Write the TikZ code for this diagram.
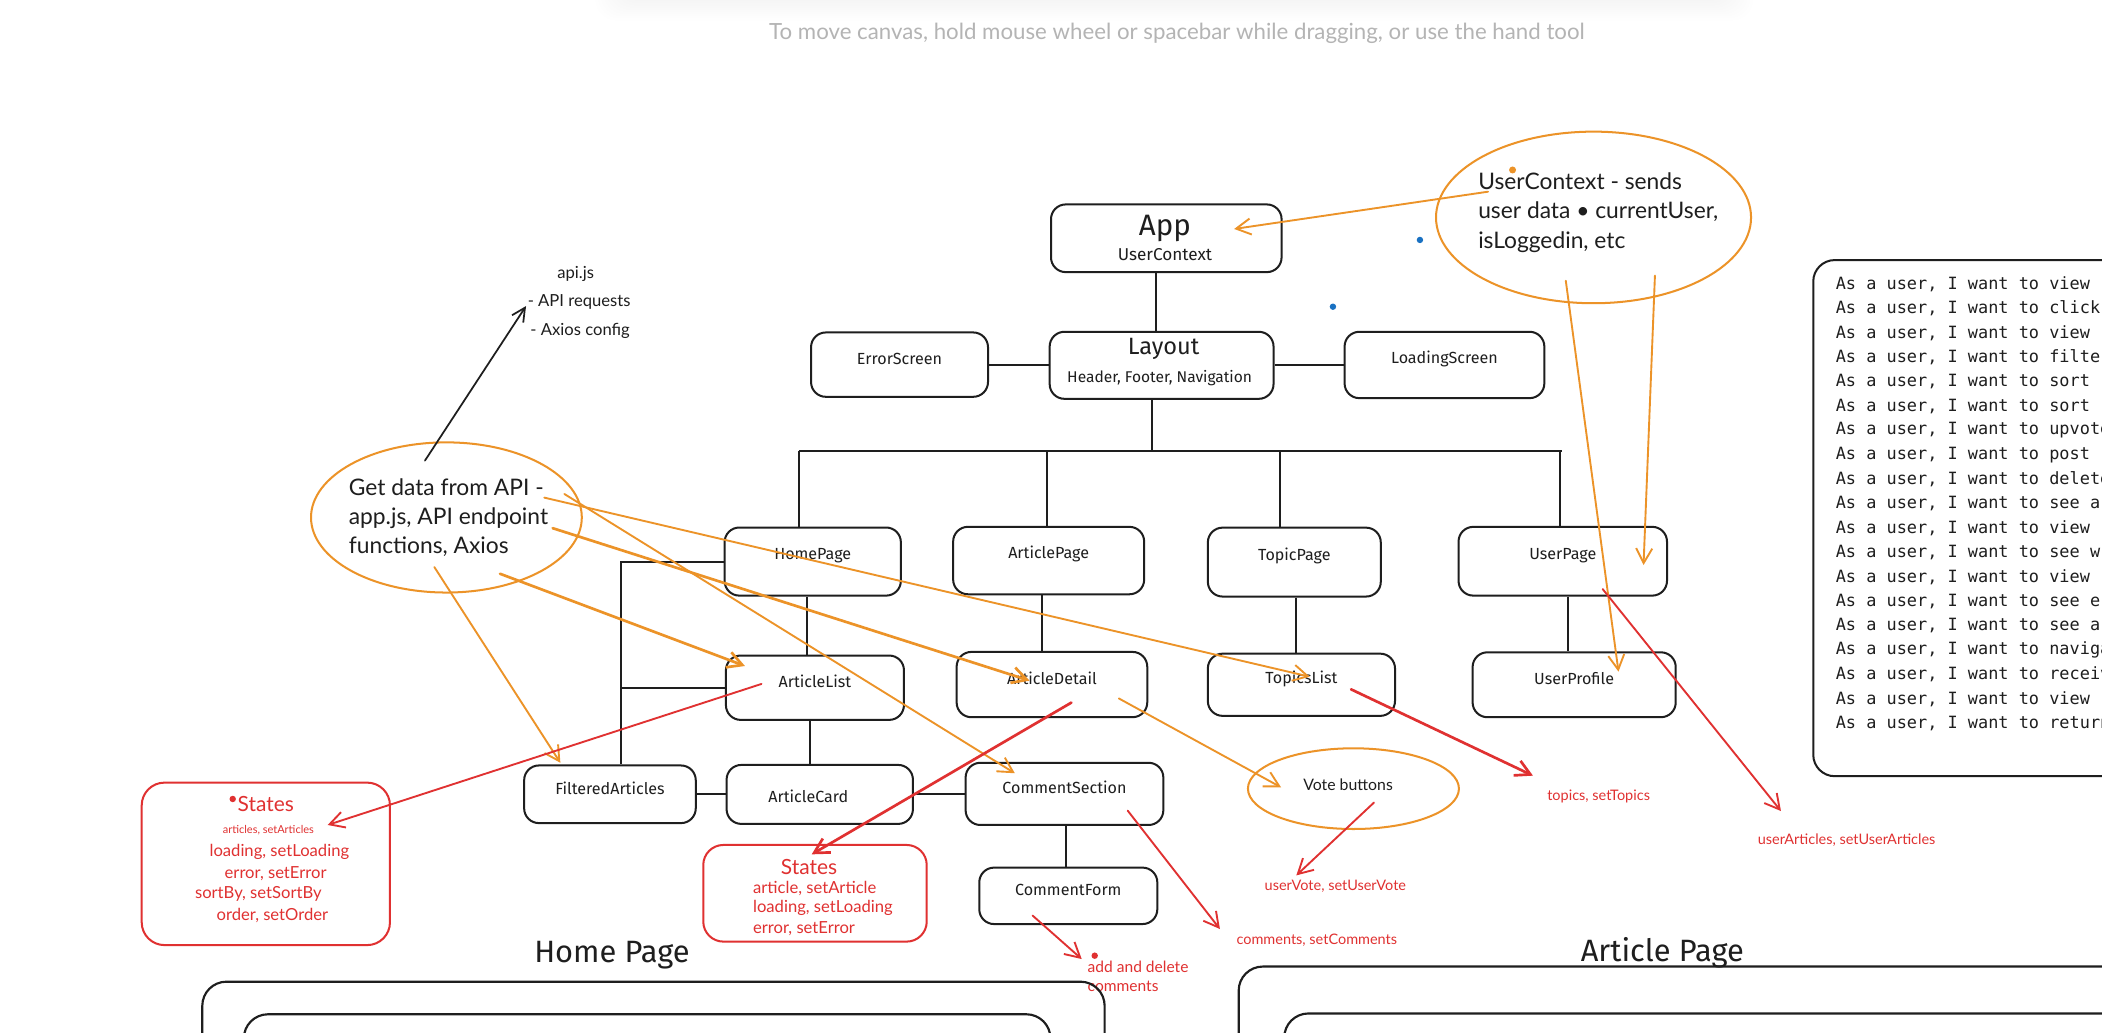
\documentclass[tikz,border=0pt]{standalone}
\usepackage{fontspec}
\setmainfont{Lato}
\newfontfamily\handf{Fira Sans}
\newfontfamily\monof{DejaVu Sans Mono}
\usetikzlibrary{shapes.geometric,arrows.meta,fit,calc}
\definecolor{ink}{HTML}{1E1E1E}
\definecolor{orng}{HTML}{EC9328}
\definecolor{redc}{HTML}{E03131}
\definecolor{bluc}{HTML}{1971C2}
\definecolor{hint}{HTML}{B4B4B4}
\begin{document}
\begin{tikzpicture}[x=0.5pt,y=-0.5pt,
  box/.style={draw=ink,line width=0.75pt,rounded corners=5.5pt,inner sep=0pt,
    font=\handf\fontsize{6}{7}\selectfont,text=ink},
  rbox/.style={draw=redc,line width=0.75pt,rounded corners=7.5pt,inner sep=0pt},
  frame/.style={draw=ink,line width=0.8pt,rounded corners=9pt,inner sep=0pt},
  lbl/.style={inner sep=0pt,text=ink,font=\handf\fontsize{6}{7}\selectfont},
  conn/.style={draw=ink,line width=0.75pt},
  oarr/.style={draw=orng,line width=0.7pt,line cap=round,-{Straight Barb[length=5.5pt,width=6pt]}},
  odbl/.style={oarr,line width=1pt},
  rarr/.style={draw=redc,line width=0.7pt,line cap=round,-{Straight Barb[length=5.5pt,width=6pt]}},
  rdbl/.style={rarr,line width=1pt},
  karr/.style={draw=ink,line width=0.65pt,line cap=round,-{Straight Barb[length=5pt,width=5pt]}},
  oell/.style={ellipse,draw=orng,line width=0.75pt,inner sep=0pt},
  note/.style={inner sep=0pt,text=ink,align=left,font=\fontsize{8.5}{10.85}\selectfont},
  small/.style={inner sep=0pt,text=ink,font=\fontsize{6.2}{7.5}\selectfont},
  rtxt/.style={inner sep=0pt,text=redc,font=\fontsize{5.4}{6.5}\selectfont},
  stxt/.style={inner sep=0pt,text=redc,font=\fontsize{6.2}{7.5}\selectfont},
  sttl/.style={inner sep=0pt,text=redc,font=\fontsize{7.8}{9}\selectfont},
  story/.style={inner sep=0pt,anchor=west,text=ink,font=\monof\fontsize{6.3}{7.5}\selectfont},
  dot/.style={circle,inner sep=0pt,minimum size=2.4pt}]
\useasboundingbox (0,0) rectangle (1568,770);
\clip (0,0) rectangle (1568,770);
\fill[white] (0,0) rectangle (1568,770);

% faint toolbar shadow at top
\foreach \k in {0,...,9}{
  \fill[black,opacity=0.004,rounded corners=8pt] ({462-2*\k},-40) rectangle ({1290+2*\k},{1+1.6*\k});
}
\node[inner sep=0pt,text=hint,font=\fontsize{8.3}{10}\selectfont] (hintT) at (878,25)
  {To move canvas, hold mouse wheel or spacebar while dragging, or use the hand tool};

% ---------- component boxes ----------
\node[box,fit={(784,152.5) (956,203)}] (app) {};
\node[lbl,font=\handf\fontsize{11}{12}\selectfont] (appT) at (869,170.3) {App};
\node[lbl,font=\handf\fontsize{6.4}{7}\selectfont] (appS) at (869,190.2) {UserContext};

\node[box,fit={(783,247.5) (950,297.5)}] (layout) {};
\node[lbl,font=\handf\fontsize{8.8}{10}\selectfont] (layT) at (868,260.3) {Layout};
\node[lbl,font=\handf\fontsize{5.8}{7}\selectfont] (layS) at (865,281.7) {Header, Footer, Navigation};

\node[box,fit={(605,248) (737,296)}] (errorscreen) {ErrorScreen};
\node[box,fit={(1003,247.5) (1152,297)}] (loading) {LoadingScreen};

\node[box,fit={(540.5,393.5) (672,444.3)}] (homepage) {HomePage};
\node[box,fit={(711,393) (853.5,443.3)}] (articlepage) {ArticlePage};
\node[box,fit={(901,393.6) (1030,445)}] (topicpage) {TopicPage};
\node[box,fit={(1088,393) (1243.5,444.3)}] (userpage) {UserPage};

\node[box,fit={(541.5,489) (674.3,537)}] (articlelist) {ArticleList};
\node[box,fit={(713.6,486.3) (855.8,535)}] (articledetail) {ArticleDetail};
\node[box,fit={(901,487.6) (1040.6,534)}] (topicslist) {TopicsList};
\node[box,fit={(1098.5,486.6) (1250,535)}] (userprofile) {UserProfile};

\node[box,fit={(391,571) (519,614)}] (filtered) {FilteredArticles};
\node[box,fit={(542,570.6) (681,614.6)}] (articlecard) {};
\node[lbl] (cardT) at (603,594) {ArticleCard};
\node[box,fit={(720.3,569) (867.8,615.4)}] (commentsection) {CommentSection};
\node[box,fit={(730.5,647.2) (863.3,689.3)}] (commentform) {CommentForm};

% ---------- tree connectors ----------
\coordinate (busL) at (596,336.5);
\coordinate (busR) at (1165.5,336.5);
\coordinate (xApp) at (862,0);
\coordinate (xLay) at (859.5,0);
\coordinate (xAP) at (781,0);
\coordinate (xTP) at (954.5,0);
\coordinate (xUP) at (1163.7,0);
\coordinate (xHL) at (602,0);
\coordinate (xAD) at (777,0);
\coordinate (xTL) at (966.7,0);
\coordinate (xUF) at (1169.6,0);
\coordinate (xAC) at (604,0);
\coordinate (xCF) at (795.2,0);
\coordinate (xFr) at (463,0);

\draw[conn] (app.south -| xApp) -- (layout.north -| xApp);
\draw[conn] (layout.south -| xLay) -- (busL -| xLay);
\draw[conn] (busL) -- (busR);
\draw[conn] (busL) -- (busL |- homepage.north);
\draw[conn] (busL -| xAP) -- (articlepage.north -| xAP);
\draw[conn] (busL -| xTP) -- (topicpage.north -| xTP);
\draw[conn] (busL -| xUP) -- (userpage.north -| xUP);
\draw[conn] (homepage.south -| xHL) -- (articlelist.north -| xHL);
\draw[conn] (articlepage.south -| xAD) -- (articledetail.north -| xAD);
\draw[conn] (topicpage.south -| xTL) -- (topicslist.north -| xTL);
\draw[conn] (userpage.south -| xUF) -- (userprofile.north -| xUF);
\draw[conn] (articlelist.south -| xAC) -- (articlecard.north -| xAC);
\draw[conn] (commentsection.south -| xCF) -- (commentform.north -| xCF);
\draw[conn] (errorscreen.east) -- (errorscreen.east -| layout.west);
\draw[conn] (layout.east) -- (layout.east -| loading.west);
\draw[conn] (filtered.east) -- (filtered.east -| articlecard.west);
\draw[conn] (articlecard.east) -- (articlecard.east -| commentsection.west);
\draw[conn] (homepage.west) -- (homepage.west -| xFr) -- (filtered.north -| xFr);
\draw[conn] (articlelist.west) -- (articlelist.west -| xFr);

% ---------- orange notes ----------
\node[oell,minimum width=117.5pt,minimum height=64pt] (uc) at (1188.7,162.2) {};
\node[note,anchor=west] (ucT) at (1102.3,158.6) {UserContext - sends\\user data \textbullet{} currentUser,\\isLoggedin, etc};
\node[oell,minimum width=101pt,minimum height=56pt] (gd) at (333,386) {};
\node[note,anchor=west] (gdT) at (259.8,385.9) {Get data from API -\\app.js, API endpoint\\functions, Axios};
\node[oell,minimum width=78.7pt,minimum height=30.1pt] (vote) at (1009.6,588.3) {};
\node[inner sep=0pt,text=ink,font=\fontsize{5.9}{7}\selectfont] (voteT) at (1005.6,585.6) {Vote buttons};

\node[small] (apiT) at (429.4,204.6) {api.js};
\node[small,anchor=west] (apiA) at (393.3,225.5) {- API requests};
\node[small,anchor=west] (apiB) at (395.3,246.9) {- Axios config};

\node[dot,fill=bluc] (blue1) at (1059.2,179) {};
\node[dot,fill=bluc] (blue2) at (994.3,228.8) {};
\node[dot,fill=orng,minimum size=2.6pt] (odot) at (1128.3,126.8) {};

% ---------- orange arrows ----------
\coordinate (o1s) at (1110,143);     \coordinate (o1e) at (920.6,170.8);
\coordinate (o2s) at (1168,209.4);   \coordinate (o2e) at (1207.3,501);
\coordinate (o3s) at (1234.5,205.6); \coordinate (o3e) at (1226,421.5);
\coordinate (o4s) at (406,371.2);    \coordinate (o4e) at (977,504.8);
\coordinate (o5s) at (421,368.5);    \coordinate (o5e) at (757,576.8);
\coordinate (o6s) at (412.3,394);    \coordinate (o6e) at (768,507.7);
\coordinate (o7s) at (373,428);      \coordinate (o7e) at (555.7,496.8);
\coordinate (o8s) at (324,423);      \coordinate (o8e) at (418,569);
\coordinate (o9s) at (834.6,521);    \coordinate (o9e) at (955.6,587.3);
\draw[oarr] (o1s) -- (o1e);
\draw[oarr] (o2s) -- (o2e);
\draw[oarr] (o3s) -- (o3e);
\draw[oarr] (o4s) -- (o4e);
\draw[oarr] (o5s) -- (o5e);
\draw[odbl] (o6s) -- (o6e);
\draw[odbl] (o7s) -- (o7e);
\draw[oarr] (o8s) -- (o8e);
\draw[oarr] (o9s) -- (o9e);

\coordinate (k1s) at (317,343.6);   \coordinate (k1e) at (392.4,228.3);
\draw[karr] (k1s) -- (k1e);

% ---------- states boxes ----------
\node[rbox,rounded corners=8.5pt,fit={(105.7,583.8) (290.9,705)}] (st1) {};
\node[dot,fill=redc] (st1dot) at (173.6,596) {};
\node[sttl] (st1T) at (198.3,599.7) {States};
\node[inner sep=0pt,text=redc,font=\fontsize{4.1}{5}\selectfont] (st1a) at (200.2,619.4) {articles, setArticles};
\node[stxt] (st1b) at (208.4,635.3) {loading, setLoading};
\node[stxt] (st1c) at (205.6,651.5) {error, setError};
\node[stxt] (st1d) at (192.7,666.9) {sortBy, setSortBy};
\node[stxt] (st1e) at (203.2,683) {order, setOrder};

\node[rbox,fit={(524.6,630.3) (691.3,702.4)}] (st2) {};
\node[sttl] (st2T) at (603.5,646.5) {States};
\node[stxt,anchor=west] (st2a) at (561.4,662.6) {article, setArticle};
\node[stxt,anchor=west] (st2b) at (561.4,677.6) {loading, setLoading};
\node[stxt,anchor=west] (st2c) at (561.4,693) {error, setError};

\node[rtxt] (topicsT) at (1192.5,593.8) {topics, setTopics};
\node[rtxt] (uaT) at (1377.5,626.6) {userArticles, setUserArticles};
\node[rtxt,anchor=west] (uvT) at (943,661) {userVote, setUserVote};
\node[rtxt,anchor=west] (comT) at (922,701) {comments, setComments};
\node[inner sep=0pt,text=redc,align=left,anchor=west,font=\fontsize{5.8}{7.25}\selectfont] (addT) at (811,728.2) {add and delete\\comments};
\node[dot,fill=redc] (rdot) at (816.6,712.9) {};

% ---------- red arrows ----------
\coordinate (r1s) at (568,510.2);    \coordinate (r1e) at (244.4,615.4);
\coordinate (r2s) at (799.2,524.1);  \coordinate (r2e) at (605.5,637.3);
\coordinate (r3s) at (841.2,604.7);  \coordinate (r3e) at (910,693);
\coordinate (r4s) at (770.3,683);    \coordinate (r4e) at (806.9,715.4);
\coordinate (r5s) at (1007.8,514.2); \coordinate (r5e) at (1143.5,578.6);
\coordinate (r6s) at (1195.5,439.4); \coordinate (r6e) at (1328.5,605);
\coordinate (r7s) at (1024.9,598.7); \coordinate (r7e) at (967,653);
\draw[rarr] (r1s) -- (r1e);
\draw[rdbl] (r2s) -- (r2e);
\draw[rarr] (r3s) -- (r3e);
\draw[rarr] (r4s) -- (r4e);
\draw[rdbl] (r5s) -- (r5e);
\draw[rarr] (r6s) -- (r6e);
\draw[rarr] (r7s) -- (r7e);

% ---------- user stories ----------
\node[box,rounded corners=8pt,fit={(1352.6,194) (1640,579)}] (stories) {};
\foreach \t [count=\i] in {{As a user, I want to view},{As a user, I want to click},
  {As a user, I want to view},{As a user, I want to filter},{As a user, I want to sort},
  {As a user, I want to sort},{As a user, I want to upvote},{As a user, I want to post},
  {As a user, I want to delete},{As a user, I want to see a},{As a user, I want to view},
  {As a user, I want to see w},{As a user, I want to view},{As a user, I want to see e},
  {As a user, I want to see a},{As a user, I want to navigate},{As a user, I want to receive},
  {As a user, I want to view},{As a user, I want to return}}{
  \node[story] (s\i) at (1369,{212+18.2*(\i-1)}) {\t};
}

% ---------- page frames ----------
\node[lbl,font=\handf\fontsize{11.5}{13}\selectfont] (homeTitle) at (456.5,712.4) {Home Page};
\node[lbl,font=\handf\fontsize{11.5}{13}\selectfont] (artTitle) at (1240,711) {Article Page};
\node[frame,fit={(150.9,732.3) (824,830)}] (homeOuter) {};
\node[frame,fit={(181.9,756.6) (783.6,830)}] (homeInner) {};
\node[frame,fit={(924,721) (1640,830)}] (artOuter) {};
\node[frame,fit={(958,756) (1640,830)}] (artInner) {};
\end{tikzpicture}
\end{document}
